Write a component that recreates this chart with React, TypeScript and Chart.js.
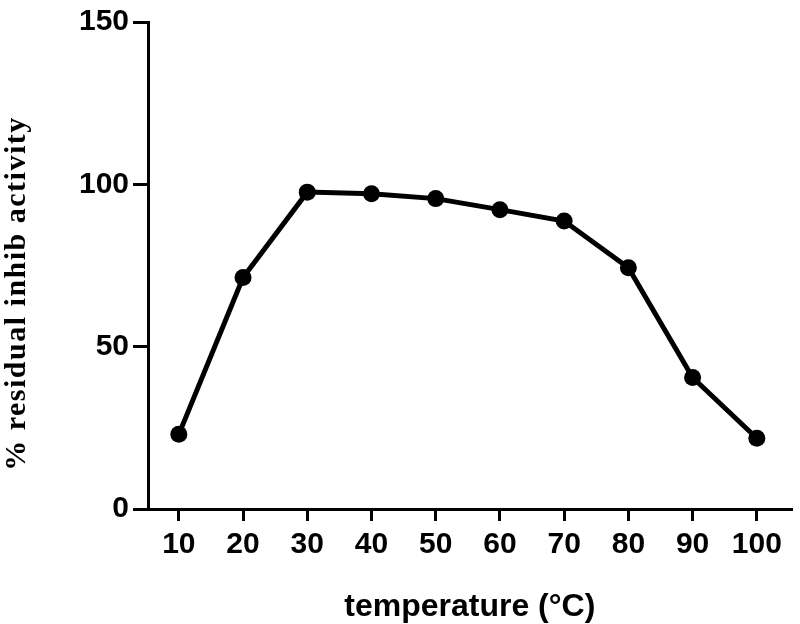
import React, { useEffect, useRef } from "react";
import { Chart, registerables } from "chart.js";

Chart.register(...registerables);

const temperatures = [10, 20, 30, 40, 50, 60, 70, 80, 90, 100];
const activity = [23.0, 71.3, 97.6, 97.1, 95.6, 92.2, 88.7, 74.3, 40.5, 21.8];
const xTickValues = [10, 20, 30, 40, 50, 60, 70, 80, 90, 100];
const yTickValues = [0, 50, 100, 150];

const yTitlePatch = {
  id: "yTitlePatch",
  beforeDraw(chart: any) {
    const s = chart.scales.y;
    if (s && !s.__patched) {
      const orig = s.drawTitle.bind(s);
      s.drawTitle = () => {
        const c = chart.ctx;
        c.save();
        c.letterSpacing = "1.5px";
        c.translate(0, 28);
        orig();
        c.restore();
      };
      s.__patched = true;
    }
  },
};

export default function App() {
  const ref = useRef<HTMLCanvasElement>(null);
  useEffect(() => {
    document.body.style.margin = "0";
    const ctx = ref.current!;
    const chart = new Chart(ctx, {
      type: "line",
      data: {
        datasets: [
          {
            data: temperatures.map((t, i) => ({ x: t, y: activity[i] })),
            borderColor: "#000",
            backgroundColor: "#000",
            borderWidth: 5,
            pointRadius: 8.5,
            pointBackgroundColor: "#000",
            pointBorderColor: "#000",
            pointBorderWidth: 0,
            tension: 0,
          },
        ],
      },
      plugins: [yTitlePatch],
      options: {
        animation: false,
        responsive: false,
        layout: { padding: { top: 20, right: 2, left: 0, bottom: 0 } },
        plugins: { legend: { display: false }, tooltip: { enabled: false } },
        scales: {
          x: {
            type: "linear",
            min: 5.2,
            max: 105.4,
            afterBuildTicks: (s: any) => {
              s.ticks = xTickValues.map((v) => ({ value: v }));
            },
            afterFit: (s: any) => {
              s.height = 115;
              s.paddingLeft = 0;
              s.paddingRight = 0;
            },
            grid: {
              drawOnChartArea: false,
              drawTicks: true,
              tickLength: 12,
              color: "#000",
              lineWidth: 3,
            },
            border: { display: true, color: "#000", width: 3 },
            ticks: {
              color: "#000",
              padding: 6,
              maxRotation: 0,
              autoSkip: false,
              font: { family: "'Liberation Sans', Arial", size: 30, weight: "bold" },
            },
            title: {
              display: true,
              text: "temperature (°C)",
              color: "#000",
              padding: { top: 0, bottom: -2 },
              font: { family: "'Liberation Sans', Arial", size: 32, weight: "bold" },
            },
          },
          y: {
            min: 0,
            max: 150,
            afterBuildTicks: (s: any) => {
              s.ticks = yTickValues.map((v) => ({ value: v }));
            },
            afterFit: (s: any) => {
              s.width = 148;
            },
            grid: {
              drawOnChartArea: false,
              drawTicks: true,
              tickLength: 15,
              color: "#000",
              lineWidth: 3,
            },
            border: { display: true, color: "#000", width: 3 },
            ticks: {
              color: "#000",
              padding: 4,
              font: { family: "'Liberation Sans', Arial", size: 30, weight: "bold" },
            },
            title: {
              display: true,
              text: "% residual inhib activity",
              color: "#000",
              padding: { top: -1, bottom: 0 },
              font: { family: "'Liberation Serif', 'Times New Roman', serif", size: 30, weight: "bold" },
            },
          },
        },
      },
    });
    return () => chart.destroy();
  }, []);
  return <canvas ref={ref} width={800} height={624} style={{ display: "block" }} />;
}
